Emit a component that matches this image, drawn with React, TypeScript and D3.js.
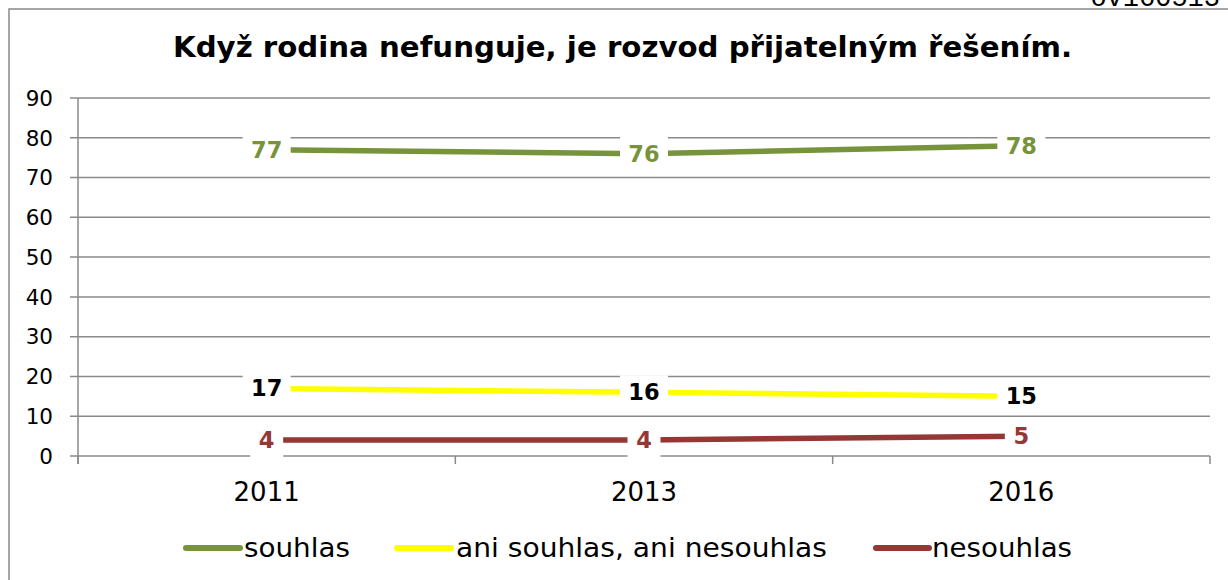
import React from "react";
import * as d3 from "d3";

const years = ["2011", "2013", "2016"];
const souhlas = [77, 76, 78];
const ani = [17, 16, 15];
const nesouhlas = [4, 4, 5];
const yTicks = [0, 10, 20, 30, 40, 50, 60, 70, 80, 90];
const seriesNames = ["souhlas", "ani souhlas, ani nesouhlas", "nesouhlas"];
const title = "Když rodina nefunguje, je rozvod přijatelným řešením.";
const corner = "ov160513";

const W = 1228;
const H = 580;

export default function App() {
  const x = d3.scaleBand<string>().domain(years).range([78, 1210]);
  const y = d3.scaleLinear().domain([0, 90]).range([456, 98]);
  const cx = (yr: string) => (x(yr) as number) + x.bandwidth() / 2;

  const series = [
    { name: seriesNames[0], values: souhlas, color: "#77933C", label: "#77933C" },
    { name: seriesNames[1], values: ani, color: "#FFFF00", label: "#000000" },
    { name: seriesNames[2], values: nesouhlas, color: "#953735", label: "#953735" },
  ];

  const line = d3
    .line<number>()
    .x((_, i) => cx(years[i]))
    .y((d) => y(d));

  const grid = "#8a8a8a";
  const font = "'DejaVu Sans', Verdana, sans-serif";

  const legendItems = [
    { x0: 186, x1: 240, tx: 244, tw: 106 },
    { x0: 397, x1: 451, tx: 456, tw: 371 },
    { x0: 876, x1: 929, tx: 932, tw: 140 },
  ];

  return (
    <svg
      width={W}
      height={H}
      style={{ position: "absolute", left: 0, top: 0, background: "#fff" }}
    >
      {/* corner text */}
      <text
        x={1220}
        y={6}
        textAnchor="end"
        fontFamily="'Liberation Mono', 'DejaVu Sans Mono', monospace"
        fontSize={27}
        fill="#000"
      >
        {corner}
      </text>
      {/* frame */}
      <path d={`M9,${H + 5} L9,9 L${W + 5},9`} fill="none" stroke="#888" strokeWidth={1.5} />

      {/* title */}
      <text
        x={173}
        y={57}
        textLength={899}
        lengthAdjust="spacingAndGlyphs"
        fontFamily={font}
        fontWeight="bold"
        fontSize={28}
        fill="#000"
      >
        {title}
      </text>

      {/* gridlines + y ticks */}
      {yTicks.map((t) => (
        <g key={t}>
          <line x1={70} x2={1210} y1={y(t)} y2={y(t)} stroke={grid} strokeWidth={1.5} />
          <text
            x={53}
            y={y(t)}
            dy="0.36em"
            textAnchor="end"
            fontFamily={font}
            fontSize={21.5}
            fill="#000"
          >
            {t}
          </text>
        </g>
      ))}
      {/* y axis */}
      <line x1={78} x2={78} y1={y(90)} y2={464} stroke={grid} strokeWidth={1.5} />
      {/* x ticks at band boundaries */}
      {[...years.map((yr) => x(yr) as number), 1210].map((bx, i) => (
        <line key={i} x1={bx} x2={bx} y1={456} y2={464} stroke={grid} strokeWidth={1.5} />
      ))}
      {years.map((yr) => (
        <text
          key={yr}
          x={cx(yr)}
          y={501}
          textAnchor="middle"
          fontFamily={font}
          fontSize={26}
          fill="#000"
        >
          {yr}
        </text>
      ))}

      {/* lines */}
      {series.map((s) => (
        <path
          key={s.name}
          d={line(s.values) || ""}
          fill="none"
          stroke={s.color}
          strokeWidth={5.5}
        />
      ))}

      {/* data labels */}
      {series.map((s) =>
        s.values.map((v, i) => {
          const txt = String(v);
          const w = txt.length * 15 + 18;
          const px = cx(years[i]);
          const py = y(v);
          return (
            <g key={s.name + i}>
              <rect x={px - w / 2} y={py - 17} width={w} height={34} fill="#fff" />
              <text
                x={px}
                y={py}
                dy="0.36em"
                textAnchor="middle"
                fontFamily={font}
                fontWeight="bold"
                fontSize={22.5}
                fill={s.label}
              >
                {txt}
              </text>
            </g>
          );
        })
      )}

      {/* legend */}
      {series.map((s, i) => (
        <g key={"lg" + i}>
          <line
            x1={legendItems[i].x0}
            x2={legendItems[i].x1}
            y1={548}
            y2={548}
            stroke={s.color}
            strokeWidth={6}
            strokeLinecap="round"
          />
          <text
            x={legendItems[i].tx}
            y={557}
            textLength={legendItems[i].tw}
            lengthAdjust="spacingAndGlyphs"
            fontFamily={font}
            fontSize={27}
            fill="#000"
          >
            {s.name}
          </text>
        </g>
      ))}
    </svg>
  );
}
